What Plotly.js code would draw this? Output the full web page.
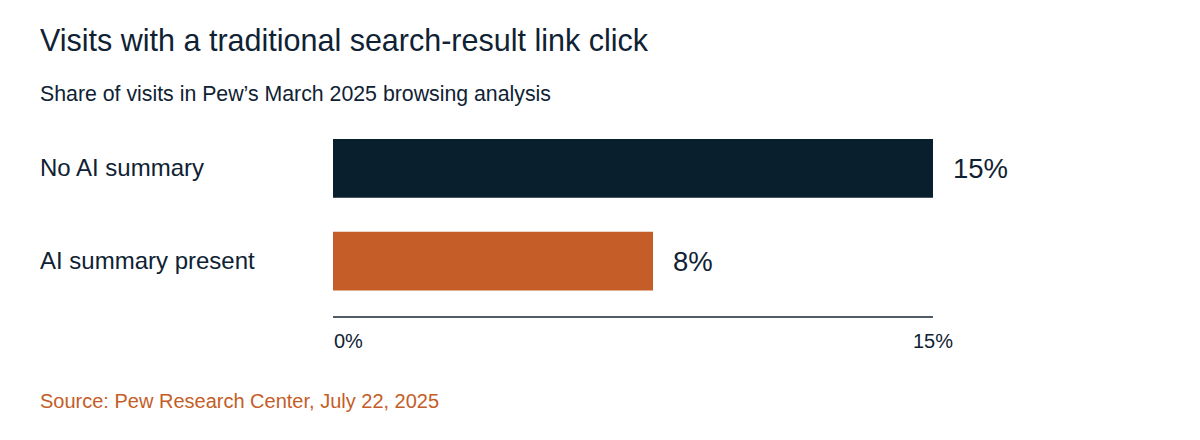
<!DOCTYPE html>
<html>
<head>
<meta charset="utf-8">
<script src="https://cdn.plot.ly/plotly-3.0.1.min.js"></script>
<style>
  html, body { margin: 0; padding: 0; background: #fff; }
  #chart { width: 1200px; height: 440px; }
</style>
</head>
<body>
<div id="chart"></div>
<script>
const categories = ["No AI summary", "AI summary present"];
const shares = [15, 8];
const barColors = ["#0a1f2e", "#c45d27"];
const valueLabels = ["15%", "8%"];
const tickValsLeft = [0];
const tickTextLeft = ["0%"];
const tickValsRight = [15];
const tickTextRight = ["15%"];

const ink = "#0f2233";
const font = "Liberation Sans, Arial, sans-serif";

// plot area: x 333..933, y 121.5..316 (px)
const plotLeft = 333, plotWidth = 600;
const plotTop = 121.5, plotBottom = 316;
const plotHeight = plotBottom - plotTop;
const paperX = px => (px - plotLeft) / plotWidth;
const paperY = py => (plotBottom - py) / plotHeight;

const data = [
  {
    type: "bar",
    orientation: "h",
    x: shares,
    y: categories,
    marker: { color: barColors, line: { width: 0 } },
    width: 0.634,
    hoverinfo: "none"
  },
  // carries the second x axis (the 15% tick label)
  {
    type: "scatter",
    mode: "markers",
    x: shares,
    y: categories,
    xaxis: "x2",
    marker: { color: "rgba(0,0,0,0)", size: 1 },
    hoverinfo: "none"
  }
];

const annotations = [];
categories.forEach((c, i) => {
  annotations.push({
    xref: "paper", yref: "y",
    x: paperX(38), y: c,
    xanchor: "left", yanchor: "middle",
    yshift: 1,
    text: c, showarrow: false,
    font: { family: font, size: 24, color: ink }
  });
  annotations.push({
    xref: "x", yref: "y",
    x: shares[i], y: c,
    xanchor: "left", yanchor: "middle",
    xshift: 18,
    text: valueLabels[i], showarrow: false,
    font: { family: font, size: 27.5, color: ink }
  });
});

annotations.push({
  xref: "paper", yref: "paper",
  x: paperX(38), y: paperY(93),
  xanchor: "left", yanchor: "middle",
  text: "Share of visits in Pew’s March 2025 browsing analysis",
  showarrow: false,
  font: { family: font, size: 21.3, color: ink }
});
annotations.push({
  xref: "paper", yref: "paper",
  x: paperX(38), y: paperY(401),
  xanchor: "left", yanchor: "middle",
  text: "Source: Pew Research Center, July 22, 2025",
  showarrow: false,
  font: { family: font, size: 20, color: "#c45d27" }
});

const tickFont = { family: font, size: 20, color: ink };

const layout = {
  width: 1200,
  height: 440,
  margin: { l: plotLeft, r: 1200 - plotLeft - plotWidth, t: plotTop, b: 440 - plotBottom },
  paper_bgcolor: "#fff",
  plot_bgcolor: "#fff",
  showlegend: false,
  title: {
    text: "Visits with a traditional search-result link click",
    xref: "container", yref: "container",
    x: 40 / 1200, y: 1 - 40 / 440,
    xanchor: "left", yanchor: "middle",
    font: { family: font, size: 30.5, color: ink }
  },
  xaxis: {
    range: [0, 15],
    showgrid: false,
    zeroline: false,
    showline: true,
    linecolor: "#4f5b66",
    linewidth: 2,
    ticks: "",
    tickvals: tickValsLeft,
    ticktext: tickTextLeft,
    ticklabelposition: "outside right",
    ticklabelstandoff: 6,
    tickfont: tickFont,
    fixedrange: true
  },
  xaxis2: {
    overlaying: "x",
    side: "bottom",
    anchor: "y",
    range: [0, 15],
    showgrid: false,
    zeroline: false,
    showline: false,
    ticks: "",
    tickvals: tickValsRight,
    ticktext: tickTextRight,
    ticklabelstandoff: 11,
    tickfont: tickFont,
    fixedrange: true
  },
  yaxis: {
    type: "category",
    range: [1.5914, -0.5],
    showgrid: false,
    zeroline: false,
    showline: false,
    showticklabels: false,
    ticks: "",
    fixedrange: true
  },
  annotations: annotations
};

Plotly.newPlot("chart", data, layout, { displayModeBar: false, staticPlot: true });
</script>
</body>
</html>
